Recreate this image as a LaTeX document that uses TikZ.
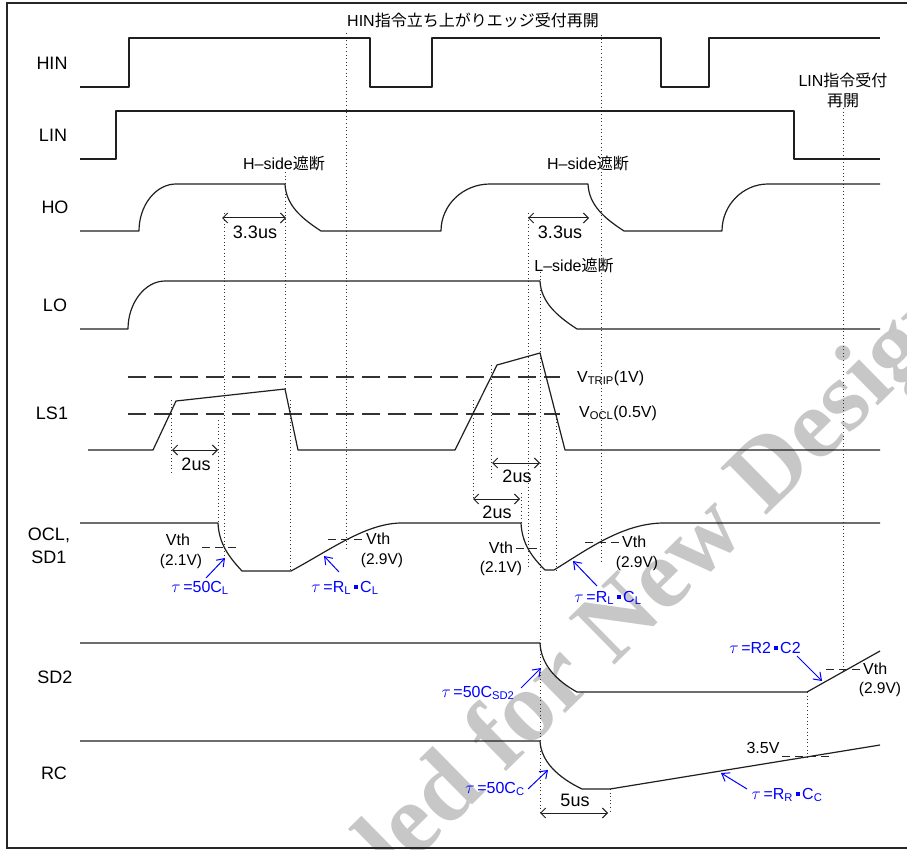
\documentclass[tikz,border=0pt]{standalone}
\usepackage{fontspec}
\setmainfont{Liberation Sans}
\newfontfamily\jp{Noto Sans CJK JP}
\newfontfamily\wmfont{Liberation Serif}
\usetikzlibrary{arrows.meta}
\newcommand{\mdot}{\,\raisebox{0.22em}{\rule{0.24em}{0.24em}}\,}
\begin{document}
\begin{tikzpicture}[x=1pt,y=-1pt,
  wave/.style={line width=1.2pt, draw=black!88, line join=round},
  dotv/.style={line width=0.9pt, dash pattern=on 1pt off 2.6pt, draw=black!80},
  longdash/.style={line width=1.2pt, dash pattern=on 18pt off 8pt, draw=black!80},
  shortdash/.style={line width=1pt, dash pattern=on 8pt off 5pt, draw=black!85},
  rowlbl/.style={inner sep=0pt, font=\fontsize{18}{23}\selectfont, align=center},
  jptxt/.style={inner sep=0pt, font=\fontsize{16}{20}\selectfont, align=center},
  tlbl/.style={inner sep=0pt, font=\fontsize{18}{20}\selectfont},
  vlbl/.style={inner sep=0pt, font=\fontsize{16}{18}\selectfont},
  plbl/.style={inner sep=0pt, font=\fontsize{15.5}{18}\selectfont},
  bl/.style={inner sep=0pt, font=\fontsize{16}{18}\selectfont, text=blue},
  dim/.style={line width=1pt, draw=black!88, {Straight Barb[length=5pt,width=10pt]}-{Straight Barb[length=5pt,width=10pt]}},
  blarrow/.style={line width=1pt, draw=blue, -{Straight Barb[length=7pt,width=10pt]}},
  wm/.style={inner sep=0pt, text=black!22, font=\wmfont\bfseries\fontsize{100}{100}\selectfont}
]
\useasboundingbox (0,0) rectangle (907,850);
\clip (0,0) rectangle (907,850);
\fill[white] (0,0) rectangle (907,850);

% watermark
\node[wm, rotate=44.5, anchor=base west] (wmark) at (395,881) {led for New Design};

% frame
\draw[line width=1.3pt, black!85] (915,3) -- (7,3) -- (7,848) -- (915,848);

% row labels
\node[rowlbl] (lHIN) at (52,63) {HIN};
\node[rowlbl] (lLIN) at (53,135) {LIN};
\node[rowlbl] (lHO) at (55,207) {HO};
\node[rowlbl] (lLO) at (55,305) {LO};
\node[rowlbl] (lLS1) at (52,413) {LS1};
\node[rowlbl] (lOCL) at (49,546) {OCL,\\SD1};
\node[rowlbl] (lSD2) at (55,677) {SD2};
\node[rowlbl] (lRC) at (54,773) {RC};

% titles
\node[jptxt] (tHIN) at (473,20) {HIN{\jp 指令立ち上がりエッジ受付再開}};
\node[jptxt] (tLIN) at (843,90) {LIN{\jp 指令受付}\\{\jp 再開}};
\node[jptxt] (tH1) at (284,163) {H–side{\jp 遮断}};
\node[jptxt] (tH2) at (588,163) {H–side{\jp 遮断}};
\node[jptxt] (tL1) at (574,265) {L–side{\jp 遮断}};

% dotted verticals
\draw[dotv] (346,33) -- (346,550);
\draw[dotv] (601,35) -- (601,562);
\draw[dotv] (224,213) -- (224,558);
\draw[dotv] (218,420) -- (218,523);
\draw[dotv] (171,400) -- (171,473);
\draw[dotv] (285,172) -- (285,389);
\draw[dotv] (290,400) -- (290,571);
\draw[dotv] (528,213) -- (528,566);
\draw[dotv] (540,272) -- (540,813);
\draw[dotv] (556,415) -- (556,570);
\draw[dotv] (473,400) -- (473,500);
\draw[dotv] (491,365) -- (491,477);
\draw[dotv] (521,493) -- (521,523);
\draw[dotv] (843,108) -- (843,672);
\draw[dotv] (807,692) -- (807,757);
\draw[dotv] (610,789) -- (610,813);

% HIN
\draw[wave] (80,87) -- (129,87) -- (129,38) -- (370,38) -- (370,87) -- (432,87) -- (432,38)
  -- (661,38) -- (661,87) -- (709,87) -- (709,38) -- (880,38);
% LIN
\draw[wave] (80,159) -- (116,159) -- (116,111) -- (794,111) -- (794,159) -- (880,159);
% HO
\draw[wave] (80,231) -- (139,231) .. controls (139,205) and (156,184) .. (176,184)
  -- (285,184) .. controls (286,205) and (301,218) .. (321,231)
  -- (441,231) .. controls (441,205) and (463,184) .. (490,184)
  -- (588,184) .. controls (589,205) and (604,218) .. (624,231)
  -- (722,231) .. controls (722,205) and (743,184) .. (768,184) -- (880,184);
% LO
\draw[wave] (80,329) -- (128,329) .. controls (128,303) and (145,281) .. (165,281)
  -- (540,281) .. controls (541,302) and (557,316) .. (577,329) -- (880,329);
% LS1
\draw[longdash] (128,377) -- (560,377);
\draw[longdash] (128,414) -- (560,414);
\draw[wave] (88,450) -- (153,450) -- (176,401) -- (285,389) -- (298,450) -- (455,450)
  -- (497,365) -- (540,353) -- (565,450) -- (880,450);
\node[vlbl, anchor=west] (vtrip) at (577,378) {V\textsubscript{TRIP}(1V)};
\node[vlbl, anchor=west] (vocl) at (579,413) {V\textsubscript{OCL}(0.5V)};
% OCL
\draw[wave] (80,523) -- (218,523) .. controls (219,544) and (229,557) .. (242,571)
  -- (291,571) .. controls (330,550) and (365,524) .. (400,523)
  -- (521,523) .. controls (522,544) and (532,557) .. (545,570)
  -- (554,570) .. controls (588,549) and (622,524) .. (662,523) -- (880,523);
% SD2
\draw[wave] (80,643) -- (540,643) .. controls (541,665) and (557,681) .. (577,692)
  -- (807,692) -- (880,651);
% RC
\draw[wave] (80,741) -- (540,741) .. controls (541,762) and (559,778) .. (582,789)
  -- (610,789) -- (880,745);

% time dimensions
\coordinate (d1a) at (222,218); \coordinate (d1b) at (286,218);
\draw[dim] (d1a) -- (d1b);
\node[tlbl] (d1t) at (255,232) {3.3us};
\coordinate (d2a) at (528,218); \coordinate (d2b) at (589,218);
\draw[dim] (d2a) -- (d2b);
\node[tlbl] (d2t) at (560,232) {3.3us};
\coordinate (d3a) at (172,450); \coordinate (d3b) at (218,450);
\draw[dim] (d3a) -- (d3b);
\node[tlbl] (d3t) at (196,464) {2us};
\coordinate (d4a) at (492,463); \coordinate (d4b) at (540,463);
\draw[dim] (d4a) -- (d4b);
\node[tlbl] (d4t) at (517,476) {2us};
\coordinate (d5a) at (473,499); \coordinate (d5b) at (520,499);
\draw[dim] (d5a) -- (d5b);
\node[tlbl] (d5t) at (497,512) {2us};
\coordinate (d6a) at (540,813); \coordinate (d6b) at (608,813);
\draw[dim] (d6a) -- (d6b);
\node[tlbl] (d6t) at (575,800) {5us};

% thresholds
\node[vlbl] (vth1) at (178,540) {Vth};
\node[plbl] (v21a) at (181,561) {(2.1V)};
\draw[shortdash] (202,547) -- (238,547);
\draw[shortdash] (328,539) -- (365,539);
\node[vlbl, anchor=west] (vth2) at (366,539) {Vth};
\node[plbl] (v29a) at (382,560) {(2.9V)};
\node[vlbl] (vth3) at (501,548) {Vth};
\draw[shortdash] (516,548) -- (540,548);
\node[plbl] (v21b) at (501,568) {(2.1V)};
\draw[shortdash] (585,542) -- (622,542);
\node[vlbl, anchor=west] (vth4) at (622,542) {Vth};
\node[plbl] (v29b) at (637,563) {(2.9V)};
\draw[shortdash] (826,669) -- (863,669);
\node[vlbl, anchor=west] (vth5) at (863,669) {Vth};
\node[plbl] (v29c) at (880,689) {(2.9V)};
\node[vlbl] (v35) at (763,748) {3.5V};
\draw[shortdash] (782,756) -- (834,756);

% blue annotations
\node[bl] (b1) at (200,588) {$\tau$\,=50C\textsubscript{L}};
\coordinate (b1s) at (206,578); \coordinate (b1e) at (225,558);
\draw[blarrow] (b1s) -- (b1e);
\node[bl] (b2) at (345,588) {$\tau$\,=R\textsubscript{L}\mdot C\textsubscript{L}};
\coordinate (b2s) at (339,572); \coordinate (b2e) at (324,556);
\draw[blarrow] (b2s) -- (b2e);
\node[bl] (b3) at (608,598) {$\tau$\,=R\textsubscript{L}\mdot C\textsubscript{L}};
\coordinate (b3s) at (597,586); \coordinate (b3e) at (573,561);
\draw[blarrow] (b3s) -- (b3e);
\node[bl] (b4) at (478,693) {$\tau$\,=50C\textsubscript{SD2}};
\coordinate (b4s) at (521,688); \coordinate (b4e) at (541,668);
\draw[blarrow] (b4s) -- (b4e);
\node[bl] (b5) at (765,648) {$\tau$\,=R2\mdot C2};
\coordinate (b5s) at (797,656); \coordinate (b5e) at (822,681);
\draw[blarrow] (b5s) -- (b5e);
\node[bl] (b6) at (495,789) {$\tau$\,=50C\textsubscript{C}};
\coordinate (b6s) at (528,789); \coordinate (b6e) at (548,770);
\draw[blarrow] (b6s) -- (b6e);
\node[bl] (b7) at (787,795) {$\tau$\,=R\textsubscript{R}\mdot C\textsubscript{C}};
\coordinate (b7s) at (747,789); \coordinate (b7e) at (721,773);
\draw[blarrow] (b7s) -- (b7e);
\end{tikzpicture}
\end{document}
